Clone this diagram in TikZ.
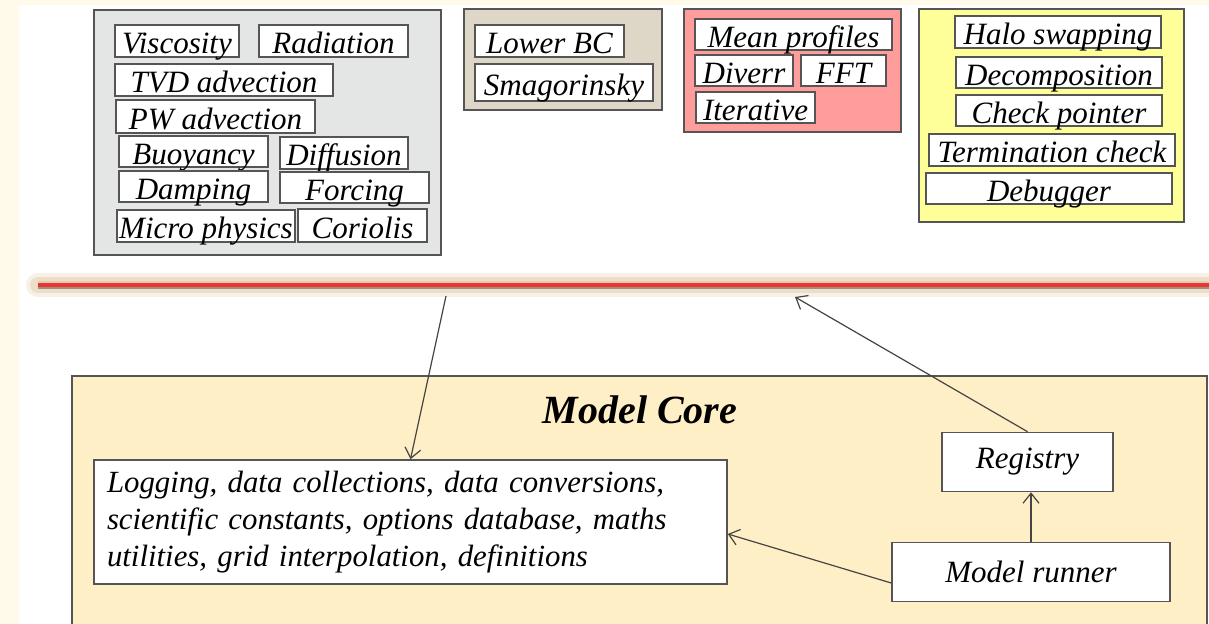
\documentclass[tikz,border=0pt]{standalone}
\usepackage{fontspec}
\setmainfont{Liberation Serif}
\usetikzlibrary{arrows.meta}

\definecolor{pagecream}{HTML}{FFFAEA}
\definecolor{boxgray}{HTML}{555555}
\definecolor{arrowgray}{HTML}{444444}
\definecolor{physfill}{HTML}{E3E6E5}
\definecolor{bcfill}{HTML}{DED6C6}
\definecolor{solvefill}{HTML}{FF9D9D}
\definecolor{parfill}{HTML}{FFFF99}
\definecolor{corefill}{HTML}{FFEFC6}
\definecolor{glowtan}{HTML}{DDBF96}
\definecolor{linered}{HTML}{EE3333}

\begin{document}
\begin{tikzpicture}[x=0.5pt,y=-0.5pt,
    sz/.style 2 args={minimum width=#1*0.5pt, minimum height=#2*0.5pt},
    group/.style={draw=boxgray, line width=0.8pt, inner sep=0pt},
    item/.style={draw=boxgray, line width=0.8pt, fill=white, inner sep=0pt,
      font=\fontsize{15.5}{18}\selectfont\itshape, text height=13pt, text depth=0pt},
    part/.style={draw=boxgray, line width=0.8pt, fill=white, inner sep=0pt,
      font=\fontsize{15.5}{18}\selectfont\itshape},
    link/.style={draw=arrowgray, line width=0.6pt, -{Straight Barb[length=5pt,width=8pt]}}]

  % Page
  \useasboundingbox (0,0) rectangle (1209,624);
  \fill[pagecream] (0,0) rectangle (1209,624);
  \fill[white] (19,5) rectangle (1209,624);

  % Physics components
  \node[group, fill=physfill, sz={347}{245}] (physics) at (267.5,132.5) {};
  \node[item, sz={124}{32}] (visc) at (177,41) {Viscosity};
  \node[item, sz={149}{32}] (rad) at (333.5,41) {Radiation};
  \node[item, sz={218}{32}] (tvd) at (224,80) {TVD advection};
  \node[item, sz={199}{33}] (pw) at (215.5,116.5) {PW advection};
  \node[item, sz={149}{31}] (buoy) at (193.5,151.5) {Buoyancy};
  \node[item, sz={128}{32}] (diff) at (344,153) {Diffusion};
  \node[item, sz={149}{31}] (damp) at (193.5,186.5) {Damping};
  \node[item, sz={149}{31}] (forc) at (354.5,187.5) {Forcing};
  \node[item, sz={178}{32}] (micro) at (206,226) {Micro physics};
  \node[item, sz={129}{33}] (cor) at (362.5,225.5) {Coriolis};

  % Boundary conditions
  \node[group, fill=bcfill, sz={198}{101}] (bc) at (563,59.5) {};
  \node[item, sz={149}{32}] (lowbc) at (549.5,41) {Lower BC};
  \node[item, sz={178}{37}] (smag) at (564,82.5) {Smagorinsky};

  % Solvers
  \node[group, fill=solvefill, sz={217}{123}] (solve) at (792.5,70.5) {};
  \node[item, sz={197}{31}] (mean) at (793.5,34.5) {Mean profiles};
  \node[item, sz={98}{31}] (diverr) at (744,70.5) {Diverr};
  \node[item, sz={85}{31}] (fft) at (843.5,70.5) {FFT};
  \node[item, sz={119}{31}] (iter) at (755.5,107.5) {Iterative};

  % Parallel support
  \node[group, fill=parfill, sz={265}{213}] (par) at (1051.5,115.5) {};
  \node[item, sz={206}{32}] (halo) at (1058,32) {Halo swapping};
  \node[item, sz={206}{31}] (decomp) at (1059,72.5) {Decomposition};
  \node[item, sz={206}{31}] (check) at (1059,110.5) {Check pointer};
  \node[item, sz={246}{32}] (term) at (1052,150) {Termination check};
  \node[item, sz={246}{31}] (debug) at (1049,188.5) {Debugger};

  % Separator line
  \draw[glowtan, line width=12pt, opacity=0.22, line cap=round] (38,285) -- (1240,285);
  \draw[glowtan, line width=8pt, opacity=0.35, line cap=round] (38,285) -- (1240,285);
  \draw[glowtan, line width=4pt, opacity=0.5] (38,285) -- (1240,285);
  \draw[boxgray, line width=1.8pt, opacity=0.5] (38,287) -- (1209,287);
  \draw[linered, line width=1.6pt] (38,285) -- (1209,285);

  % Model core
  \node[group, fill=corefill, sz={1135}{270}] (core) at (639.5,511) {};
  \node[font=\fontsize{20}{23}\selectfont\bfseries\itshape] (coretitle) at (640,410) {Model Core};
  \node[part, sz={633}{124}, text width=303.5pt, inner xsep=6.5pt, align=left,
    font=\fontsize{15.4}{18.6}\selectfont\itshape] (logging) at (410.5,522)
    {Logging, data collections, data conversions,\\
     scientific constants, options database, maths\\
     utilities, grid interpolation, definitions};
  \node[part, sz={171}{59}] (registry) at (1027.5,462) {Registry};
  \node[part, sz={278}{59}] (runner) at (1031,572) {Model runner};

  % Connections
  \coordinate (down) at (446,296);
  \coordinate (up) at (795,297);
  \draw[link] (down) -- (logging.north);
  \draw[link] (registry.north) -- (up);
  \draw[link] (runner.north) -- (runner.north |- registry.south);
  \draw[link] ([yshift=-5.5pt]runner.west) -- ([yshift=-6pt]logging.east);
\end{tikzpicture}
\end{document}
